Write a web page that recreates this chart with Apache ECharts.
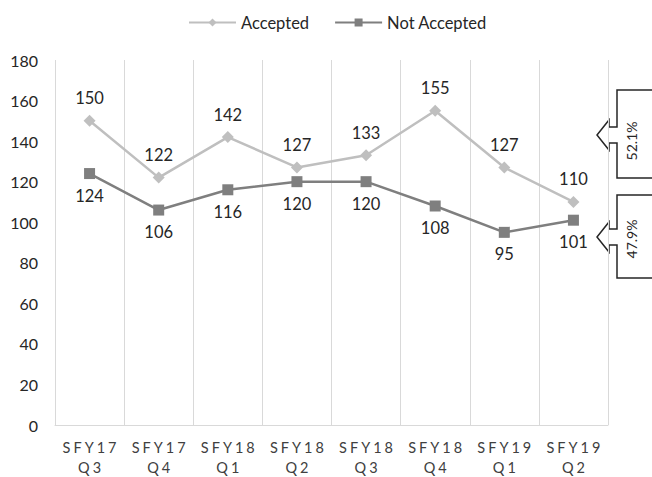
<!DOCTYPE html>
<html>
<head>
<meta charset="utf-8">
<script src="https://cdn.jsdelivr.net/npm/echarts@6/dist/echarts.min.js"></script>
<style>
html,body{margin:0;padding:0;background:#fff;}
#chart{width:652px;height:477px;}
</style>
</head>
<body>
<div id="chart"></div>
<script>
var categories = ['SFY17\nQ3','SFY17\nQ4','SFY18\nQ1','SFY18\nQ2','SFY18\nQ3','SFY18\nQ4','SFY19\nQ1','SFY19\nQ2'];
var accepted = [150,122,142,127,133,155,127,110];
var notAccepted = [124,106,116,120,120,108,95,101];
var seriesNames = ['Accepted','Not Accepted'];
var shareLabels = ['52.1%','47.9%'];

var font = 'Lato, "Open Sans", "Liberation Sans", sans-serif';

function callout(top, bottom, tipY) {
  var L = 617, R = 662, sx = 609, tip = 597;
  return [
    [R, top], [L, top], [L, tipY - 8], [sx, tipY - 8], [sx, tipY - 15],
    [tip, tipY], [sx, tipY + 15], [sx, tipY + 8], [L, tipY + 8], [L, bottom], [R, bottom]
  ];
}

var chart = echarts.init(document.getElementById('chart'), null, { renderer: 'svg' });
chart.setOption({
  animation: false,
  backgroundColor: '#ffffff',
  textStyle: { fontFamily: font },
  legend: {
    top: 9,
    left: 183,
    itemWidth: 47,
    itemHeight: 10,
    itemGap: 25,
    textStyle: { fontSize: 16.5, color: '#262626', fontFamily: font },
    data: seriesNames
  },
  grid: { left: 55, right: 44, top: 60, bottom: 49 },
  xAxis: {
    type: 'category',
    data: categories,
    boundaryGap: true,
    axisLine: { show: true, lineStyle: { color: '#d9d9d9', width: 1 } },
    axisTick: { show: false },
    splitLine: { show: true, lineStyle: { color: '#d9d9d9', width: 1 } },
    axisLabel: { color: '#404040', fontSize: 14.5, lineHeight: 20, margin: 12, fontFamily: font, interval: 0 }
  },
  yAxis: {
    type: 'value',
    min: 0, max: 180, interval: 20,
    axisLine: { show: false },
    axisTick: { show: false },
    splitLine: { show: false },
    axisLabel: { color: '#262626', fontSize: 16, margin: 17, fontFamily: font }
  },
  series: [
    {
      name: seriesNames[0],
      type: 'line',
      data: accepted,
      color: '#bfbfbf',
      symbol: 'diamond',
      symbolSize: 12,
      lineStyle: { color: '#bfbfbf', width: 2.5 },
      itemStyle: { color: '#bfbfbf' },
      label: { show: true, position: 'top', distance: 8, fontSize: 16.5, color: '#262626', fontFamily: font }
    },
    {
      name: seriesNames[1],
      type: 'line',
      data: notAccepted,
      color: '#7f7f7f',
      symbol: 'rect',
      symbolSize: 11,
      lineStyle: { color: '#7f7f7f', width: 2.5 },
      itemStyle: { color: '#7f7f7f' },
      label: { show: true, position: 'bottom', distance: 8, fontSize: 16.5, color: '#262626', fontFamily: font }
    }
  ],
  graphic: [
    { type: 'polygon', shape: { points: callout(90, 178, 135) }, style: { fill: '#ffffff', stroke: '#262626', lineWidth: 1.5 } },
    { type: 'polygon', shape: { points: callout(195, 278, 237) }, style: { fill: '#ffffff', stroke: '#262626', lineWidth: 1.5 } },
    { type: 'text', x: 631, y: 141, rotation: Math.PI / 2, style: { text: shareLabels[0], fontSize: 14, fill: '#262626', align: 'center', verticalAlign: 'middle', fontFamily: font } },
    { type: 'text', x: 631, y: 239, rotation: Math.PI / 2, style: { text: shareLabels[1], fontSize: 14, fill: '#262626', align: 'center', verticalAlign: 'middle', fontFamily: font } }
  ]
});

function spaceAxisLabels() {
  var texts = document.querySelectorAll('#chart svg text');
  for (var i = 0; i < texts.length; i++) {
    var t = texts[i];
    var s = (t.textContent || '').trim();
    if (/^SFY\d\d$/.test(s) || /^Q\d$/.test(s)) {
      t.style.letterSpacing = '3px';
      t.setAttribute('dx', '1.5');
    }
  }
}
spaceAxisLabels();
chart.on('finished', spaceAxisLabels);
setTimeout(spaceAxisLabels, 50);
</script>
</body>
</html>
